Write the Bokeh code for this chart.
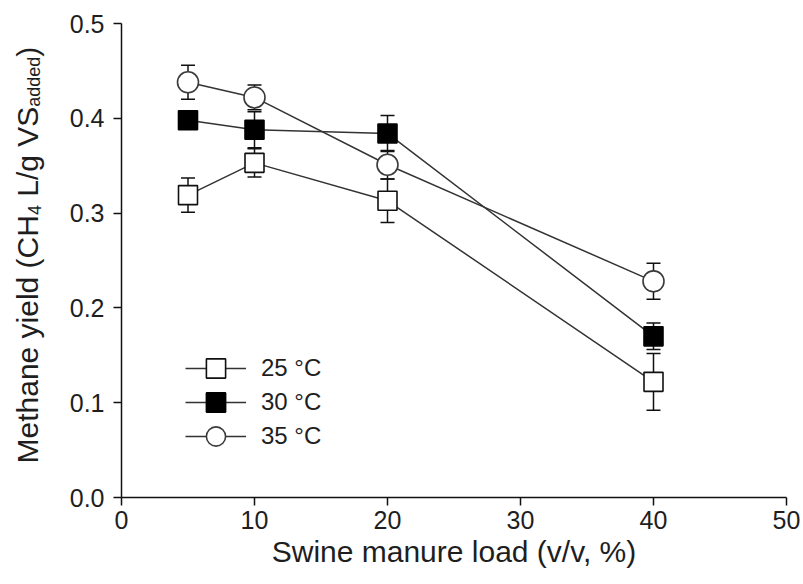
from math import pi
from bokeh.plotting import figure
from bokeh.layouts import row
from bokeh.models import (ColumnDataSource, Range1d, FixedTicker, Whisker, TeeHead,
                          Legend, LegendItem, Label, NumeralTickFormatter)
from bokeh.embed import file_html
from bokeh.resources import INLINE

# ---------------- data ----------------
loads = [5, 10, 20, 40]
yield_25 = [0.319, 0.353, 0.313, 0.122]
err_25 = [0.018, 0.015, 0.023, 0.030]
yield_30 = [0.398, 0.388, 0.384, 0.170]
err_30 = [0.006, 0.019, 0.019, 0.014]
yield_35 = [0.438, 0.422, 0.351, 0.228]
err_35 = [0.018, 0.013, 0.015, 0.019]
series_labels = ["25 \u00b0C", "30 \u00b0C", "35 \u00b0C"]
x_ticks = [0, 10, 20, 30, 40, 50]
y_ticks = [0.0, 0.1, 0.2, 0.3, 0.4, 0.5]
x_title = "Swine manure load (v/v, %)"

FONT = "Liberation Sans"
TXT = "#1e1e1e"
W, H = 803, 584
LW = 60   # width of the strip holding the y-axis title

# ---------------- y-axis title strip ----------------
t = figure(width=LW, height=H, output_backend="svg", toolbar_location=None,
           x_range=Range1d(0, LW), y_range=Range1d(0, H),
           x_axis_location=None, y_axis_location=None, min_border=0)
t.outline_line_color = None
t.xgrid.visible = False
t.ygrid.visible = False
t.background_fill_color = "white"
t.border_fill_color = "white"

EM = {"M": .833, "e": .556, "t": .278, "h": .556, "a": .556, "n": .556, " ": .278, "y": .5,
      "i": .222, "l": .222, "d": .556, "(": .333, ")": .333, "C": .722, "H": .722, "4": .556,
      "L": .556, "/": .278, "g": .556, "V": .667, "S": .667}
# (text, font px, baseline shift, extra gap after, in px)
pieces = [("Methane yield (CH", 30, 0, 0), ("4", 18, 7, 0.278 * 30), ("L/g VS", 30, 0, 0),
          ("added", 18, 7, 0), (")", 30, 0, 0)]
pos = 34.0        # distance up from the (row-aligned) frame bottom
base_x = 26.5     # baseline anchor from the left
for txt, fs, dx, gap in pieces:
    t.add_layout(Label(x=base_x + dx, y=pos, x_units="screen", y_units="screen", text=txt,
                       angle=pi / 2, text_font=FONT, text_font_size=f"{fs}px",
                       text_color=TXT, text_align="left", text_baseline="alphabetic"))
    pos += sum(EM.get(c, .556) for c in txt) * fs + gap

# ---------------- main plot ----------------
p = figure(width=W - LW, height=H, output_backend="svg", toolbar_location=None,
           x_range=Range1d(0, 50), y_range=Range1d(0, 0.5),
           min_border_left=121 - LW, min_border_right=17, min_border_top=23, min_border_bottom=87)
p.outline_line_color = None
p.xgrid.visible = False
p.ygrid.visible = False
p.background_fill_color = "white"
p.border_fill_color = "white"

for ax in (p.xaxis[0], p.yaxis[0]):
    ax.axis_line_color = "#111111"
    ax.axis_line_width = 1.5
    ax.major_tick_line_color = "#111111"
    ax.major_tick_line_width = 1.5
    ax.major_tick_out = 8
    ax.major_tick_in = 0
    ax.minor_tick_line_color = None
    ax.major_label_text_font = FONT
    ax.major_label_text_font_size = "25px"
    ax.major_label_text_color = TXT

p.xaxis.ticker = FixedTicker(ticks=x_ticks)
p.yaxis.ticker = FixedTicker(ticks=y_ticks)
p.yaxis.formatter = NumeralTickFormatter(format="0.0")
p.xaxis.major_label_standoff = 5
p.yaxis.major_label_standoff = 9
p.xaxis.axis_label = x_title
p.xaxis.axis_label_text_font = FONT
p.xaxis.axis_label_text_font_size = "30px"
p.xaxis.axis_label_text_font_style = "normal"
p.xaxis.axis_label_text_color = TXT
p.xaxis.axis_label_standoff = 3

styles = [
    dict(marker="square", size=19, fill_color="white", line_color="#111111"),
    dict(marker="square", size=19, fill_color="black", line_color="black"),
    dict(marker="circle", size=21, fill_color="white", line_color="#3a3a3a"),
]
legend_bottoms = [105, 71, 37]   # frame-relative legend positions (screen px)
for ys, es, st, lab, lb in zip([yield_25, yield_30, yield_35], [err_25, err_30, err_35],
                               styles, series_labels, legend_bottoms):
    src = ColumnDataSource(dict(x=loads, y=ys,
                                upper=[a + b for a, b in zip(ys, es)],
                                lower=[a - b for a, b in zip(ys, es)]))
    w = Whisker(base="x", upper="upper", lower="lower", source=src,
                line_color="#111111", line_width=1.5,
                upper_head=TeeHead(size=14, line_color="#111111", line_width=1.5),
                lower_head=TeeHead(size=14, line_color="#111111", line_width=1.5))
    p.add_layout(w)
    lr = p.line("x", "y", source=src, line_color="#333333", line_width=1.5)
    sr = p.scatter("x", "y", source=src, line_width=1.6, **st)
    leg = Legend(items=[LegendItem(label=lab, renderers=[lr, sr])], location=(64, lb),
                 glyph_width=61, glyph_height=48, label_height=48, spacing=0,
                 label_standoff=15, padding=0, margin=0,
                 border_line_color=None, background_fill_alpha=0,
                 label_text_font=FONT, label_text_font_size="24px", label_text_color=TXT)
    p.add_layout(leg, "center")

layout = row(t, p, spacing=0)
open("out.html", "w").write(file_html(layout, INLINE))
